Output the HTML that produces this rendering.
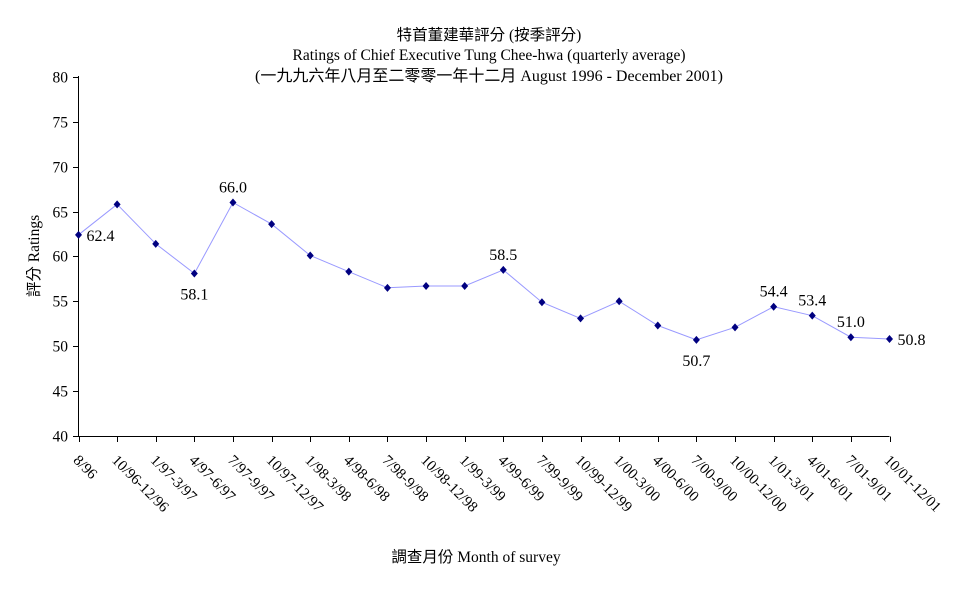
<!DOCTYPE html>
<html><head><meta charset="utf-8"><style>
html,body{margin:0;padding:0;background:#fff;}
svg{display:block;font-family:"Liberation Serif","Noto Serif CJK SC",serif;}
</style></head><body>
<svg id="s" width="977" height="600" viewBox="0 0 977 600" xmlns="http://www.w3.org/2000/svg">
<text x="489" y="40" font-size="15.5" text-anchor="middle" font-family="Liberation Serif, Noto Sans CJK TC, serif">特首董建華評分 (按季評分)</text>
<text x="489" y="60" font-size="15.5" text-anchor="middle">Ratings of Chief Executive Tung Chee-hwa (quarterly average)</text>
<text x="489" y="81" font-size="16" text-anchor="middle" font-family="Liberation Serif, Noto Sans CJK TC, serif">(一九九六年八月至二零零一年十二月 August 1996 -  December 2001)</text>
<text transform="translate(39,256) rotate(-90)" font-size="15.5" text-anchor="middle" font-family="Liberation Serif, Noto Sans CJK TC, serif">評分 Ratings</text>
<text x="476" y="562" font-size="15.5" text-anchor="middle" font-family="Liberation Serif, Noto Sans CJK TC, serif">調查月份 Month of survey</text>
<g id="g"></g>
</svg>
<script>
var g=document.getElementById('g'),h='';
function Y(v){return 436-(v-40)*8.98;}
var x0=78.5,dx=(889.5-78.5)/21;
h+='<line x1="78.5" y1="76" x2="78.5" y2="436.5" stroke="#000"/>';
h+='<line x1="78" y1="436.5" x2="889.5" y2="436.5" stroke="#000"/>';
for(var v=40;v<=80;v+=5){var y=Math.round(Y(v))+0.5;h+='<line x1="73" y1="'+y+'" x2="78.5" y2="'+y+'" stroke="#000"/>';h+='<text x="68" y="'+(y+5)+'" font-size="15.5" text-anchor="end">'+v+'</text>';}
var L=["8/96","10/96-12/96","1/97-3/97","4/97-6/97","7/97-9/97","10/97-12/97","1/98-3/98","4/98-6/98","7/98-9/98","10/98-12/98","1/99-3/99","4/99-6/99","7/99-9/99","10/99-12/99","1/00-3/00","4/00-6/00","7/00-9/00","10/00-12/00","1/01-3/01","4/01-6/01","7/01-9/01","10/01-12/01"];
var D=[62.4,65.8,61.4,58.1,66.0,63.6,60.1,58.3,56.5,56.7,56.7,58.5,54.9,53.1,55.0,52.3,50.7,52.1,54.4,53.4,51.0,50.8];
var pts=[];
for(var i=0;i<22;i++){var x=x0+i*dx;var xr=Math.round(x)+0.5;
h+='<line x1="'+xr+'" y1="436.5" x2="'+xr+'" y2="442" stroke="#000"/>';
h+='<text transform="translate('+(x-6)+',461) rotate(45)" font-size="15">'+L[i]+'</text>';
pts.push(x.toFixed(1)+','+Y(D[i]).toFixed(1));}
h+='<polyline points="'+pts.join(' ')+'" fill="none" stroke="#9999ff" stroke-width="1"/>';
for(var i=0;i<22;i++){var x=x0+i*dx,y=Y(D[i]);h+='<path d="M'+x+' '+(y-4)+'L'+(x+3.5)+' '+y+'L'+x+' '+(y+4)+'L'+(x-3.5)+' '+y+'Z" fill="#000080"/>';}
var lab={0:[8,6,'start'],3:[0,26,'middle'],4:[0,-10,'middle'],11:[0,-10,'middle'],16:[0,26,'middle'],18:[0,-10,'middle'],19:[0,-10,'middle'],20:[0,-10,'middle'],21:[8,6,'start']};
for(var k in lab){var x=x0+k*dx,y=Y(D[k]);h+='<text x="'+(x+lab[k][0])+'" y="'+(y+lab[k][1])+'" font-size="16" text-anchor="'+lab[k][2]+'">'+D[k].toFixed(1)+'</text>';}
g.innerHTML=h;
</script>
</body></html>
